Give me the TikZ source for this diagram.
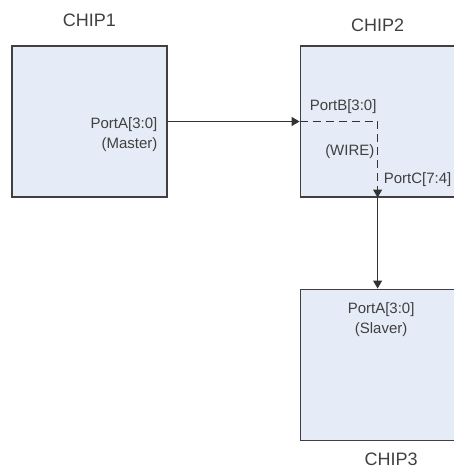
\documentclass[tikz,border=0pt]{standalone}
\usepackage{fontspec}
\setmainfont{Liberation Sans}
\usetikzlibrary{positioning,arrows.meta}
\definecolor{chipfill}{HTML}{E6ECF7}
\definecolor{inkgray}{HTML}{404040}
\tikzset{
  chip/.style={draw=inkgray, line width=1.1pt, fill=chipfill,
    minimum width=155pt, minimum height=151pt, inner sep=0pt},
  chipname/.style={font=\fontsize{18}{21}\selectfont, text=inkgray, inner sep=0pt},
  port/.style={font=\fontsize{15}{20}\selectfont, text=inkgray, inner sep=0pt, align=right},
  bus/.style={draw=inkgray!80!black, line width=1.2pt, -{Triangle[length=8pt,width=9pt]}},
  wire/.style={dash pattern=on 8pt off 5pt},
}
\begin{document}
\begin{tikzpicture}
  \useasboundingbox (0,0) rectangle (453pt,-473pt);
  %% chips
  \node[chip] (chip1) at (89.5pt,-121.5pt) {};
  \node[chip, right=132pt of chip1] (chip2) {};
  \node[chip, below=91pt of chip2] (chip3) {};
  %% names
  \node[chipname, above=19pt of chip1] (name1) {CHIP1};
  \node[chipname, above=14pt of chip2] (name2) {CHIP2};
  \node[chipname, below=12pt of chip3, xshift=13.5pt] (name3) {CHIP3};
  %% ports
  \node[port, anchor=north east] (portA) at ([xshift=-10pt,yshift=4.5pt]chip1.east) {PortA[3:0]\\(Master)};
  \node[port, anchor=south west] (portB) at ([xshift=10pt,yshift=8pt]chip2.west) {PortB[3:0]};
  \node[port, anchor=east] (wirelbl) at ([xshift=-3pt,yshift=-30.5pt]chip2.center) {(WIRE)};
  \node[port, anchor=west] (portC) at ([xshift=6pt,yshift=-58.5pt]chip2.center) {PortC[7:4]};
  \node[port, align=center, anchor=north] (portS) at ([xshift=3.5pt,yshift=-14pt]chip3.north) {PortA[3:0]\\(Slaver)};
  %% connectors
  \draw[bus] (chip1) -- (chip2);
  \draw[bus, wire] (chip2.west) -- (chip2.center) -- (chip2.south);
  \draw[bus] (chip2.south) -- (chip3.north);
\end{tikzpicture}
\end{document}
